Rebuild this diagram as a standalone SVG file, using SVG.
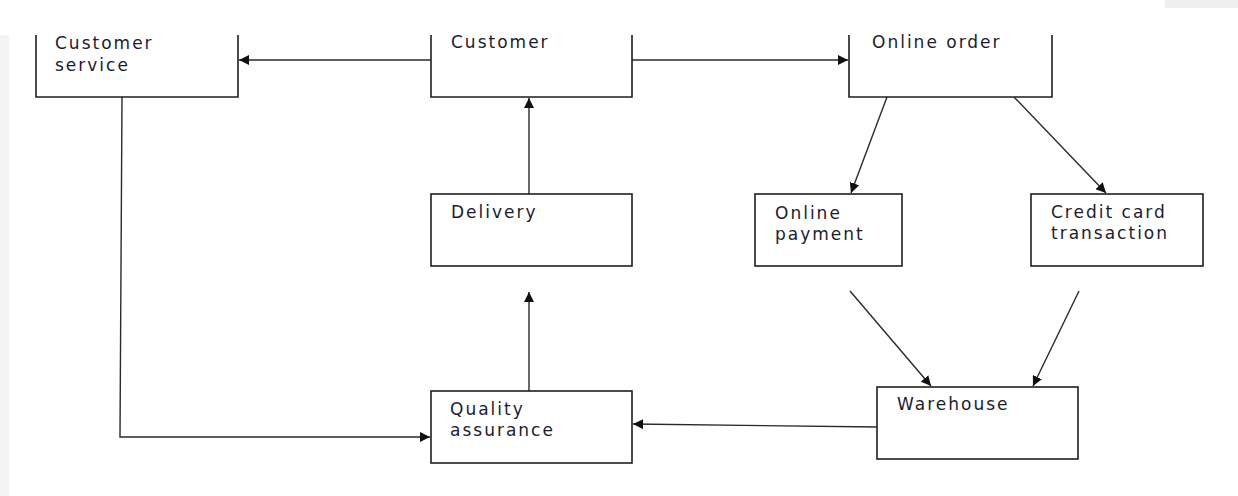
<svg xmlns="http://www.w3.org/2000/svg" width="1238" height="496" viewBox="0 0 1238 496">
  <style>
    .box { fill: #ffffff; stroke: #1e1e1e; stroke-width: 1.6; }
    .lbl { font-family: "DejaVu Sans", "Open Sans", sans-serif; font-size: 17px; fill: #1c1c2e; letter-spacing: 2px; }
    .edge { fill: none; stroke: #2a2a2a; stroke-width: 1.4; }
  </style>
  <defs>
    <marker id="arr" viewBox="0 0 10 10" refX="10" refY="5" markerWidth="10" markerHeight="10" markerUnits="userSpaceOnUse" orient="auto">
      <path d="M0,0 L10,5 L0,10 z" fill="#111111"/>
    </marker>
  </defs>
  <rect width="1238" height="496" fill="#ffffff"/>
  <!-- page margin shading -->
  <rect x="0" y="35" width="9" height="461" fill="#f3f3f3"/>
  <rect x="1165" y="0" width="73" height="8" fill="#efefef"/>

  <g id="connectors">
    <line class="edge" x1="431" y1="60" x2="239" y2="60" marker-end="url(#arr)"/>
    <line class="edge" x1="632" y1="60" x2="848" y2="60" marker-end="url(#arr)"/>
    <line class="edge" x1="529" y1="194" x2="529" y2="98" marker-end="url(#arr)"/>
    <line class="edge" x1="529" y1="391" x2="529" y2="292" marker-end="url(#arr)"/>
    <line class="edge" x1="887" y1="97" x2="851" y2="193" marker-end="url(#arr)"/>
    <line class="edge" x1="1014" y1="97" x2="1106" y2="193" marker-end="url(#arr)"/>
    <line class="edge" x1="850" y1="291" x2="931" y2="386" marker-end="url(#arr)"/>
    <line class="edge" x1="1079" y1="291" x2="1033" y2="386" marker-end="url(#arr)"/>
    <line class="edge" x1="877" y1="427" x2="633" y2="424" marker-end="url(#arr)"/>
    <polyline class="edge" points="122,97 120,437 430,437" marker-end="url(#arr)"/>
  </g>

  <g id="customer-service">
    <path class="box" d="M36,35 V97 H238 V35"/>
    <text class="lbl" x="55" y="49">Customer</text>
    <text class="lbl" x="55" y="71">service</text>
  </g>
  <g id="customer">
    <path class="box" d="M431,35 V97 H632 V35"/>
    <text class="lbl" x="451" y="48">Customer</text>
  </g>
  <g id="online-order">
    <path class="box" d="M849,35 V97 H1052 V35"/>
    <text class="lbl" x="872" y="48">Online order</text>
  </g>
  <g id="delivery">
    <rect class="box" x="431" y="194" width="201" height="72"/>
    <text class="lbl" x="451" y="218">Delivery</text>
  </g>
  <g id="online-payment">
    <rect class="box" x="755" y="194" width="147" height="72"/>
    <text class="lbl" x="775" y="219">Online</text>
    <text class="lbl" x="775" y="240">payment</text>
  </g>
  <g id="credit-card-transaction">
    <rect class="box" x="1031" y="194" width="172" height="72"/>
    <text class="lbl" x="1051" y="218">Credit card</text>
    <text class="lbl" x="1051" y="239">transaction</text>
  </g>
  <g id="quality-assurance">
    <rect class="box" x="431" y="391" width="201" height="72"/>
    <text class="lbl" x="450" y="415">Quality</text>
    <text class="lbl" x="450" y="436">assurance</text>
  </g>
  <g id="warehouse">
    <rect class="box" x="877" y="387" width="201" height="72"/>
    <text class="lbl" x="897" y="410">Warehouse</text>
  </g>
</svg>
